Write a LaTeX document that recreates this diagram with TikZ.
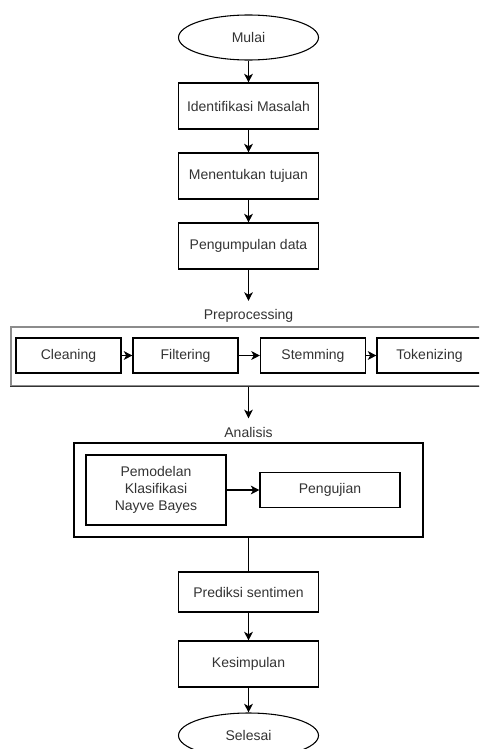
\documentclass[tikz,border=0pt]{standalone}
\usepackage{fontspec}
\setmainfont{Liberation Sans}
\usetikzlibrary{shapes.geometric,arrows.meta}
\tikzset{step box/.style={draw, rectangle, minimum width=105pt, minimum height=34.5pt},
pre box/.style={draw, rectangle, minimum width=78.75pt, minimum height=26.25pt},
terminal/.style={draw, ellipse, minimum width=105pt, minimum height=33.75pt},
caption/.style={inner sep=6pt}}

\begin{document}
\begin{tikzpicture}[x=0.75pt,y=-0.75pt,line width=0.8pt,
  font=\fontsize{10.5}{12.75}\selectfont, text=black!80,
  >={Stealth[length=6.5pt,width=6.5pt,inset=1.8pt]}]
\useasboundingbox (0,0) rectangle (479,749);
\clip (0,0) rectangle (479,749);
\node[terminal] (mulai) at (248.5,37.5) {Mulai};
\node[step box] (masalah) at (248.5,106) {Identifikasi Masalah};
\node[step box] (tujuan) at (248.5,176) {Menentukan tujuan};
\node[step box] (data) at (248.5,246) {Pengumpulan data};
\node[caption] (lblpre) at (248.5,316) {Preprocessing};
\node[draw=black!45, minimum width=356.25pt, minimum height=44.25pt] (pre) at (248.5,356.5) {};
\draw[black!80] (pre.south west) -- (pre.south east);
\node[pre box] (cleaning) at (68.5,355.5) {Cleaning};
\node[pre box] (filtering) at (185.5,355.5) {Filtering};
\node[pre box] (stemming) at (313,355.5) {Stemming};
\node[pre box] (tokenizing) at (429.5,355.5) {Tokenizing};
\node[caption] (lblana) at (248.5,432) {Analisis};
\node[draw, minimum width=261.75pt, minimum height=70.5pt] (ana) at (248.5,490) {};
\node[draw, minimum width=105pt, minimum height=52.5pt, align=center] (model) at (156,490)
{Pemodelan\\Klasifikasi\\Nayve Bayes};
\node[draw, minimum width=105pt, minimum height=26.25pt] (uji) at (330,490) {Pengujian};
\node[step box, minimum height=30pt] (prediksi) at (248.5,592) {Prediksi sentimen};
\node[step box] (simpul) at (248.5,664) {Kesimpulan};
\node[terminal] (selesai) at (248.5,735.5) {Selesai};
\draw[->] (mulai) -- (masalah);
\draw[->] (masalah) -- (tujuan);
\draw[->] (tujuan) -- (data);
\draw[->] (data) -- (lblpre);
\draw[->] (cleaning) -- (filtering);
\draw[->] (filtering) -- (stemming);
\draw[->] (stemming) -- (tokenizing);
\draw[->] (pre.south) -- (lblana);
\draw[->] (model) -- (uji);
\draw (ana) -- (prediksi);
\draw[->] (prediksi) -- (simpul);
\draw[->] (simpul) -- (selesai);
\end{tikzpicture}
\end{document}
